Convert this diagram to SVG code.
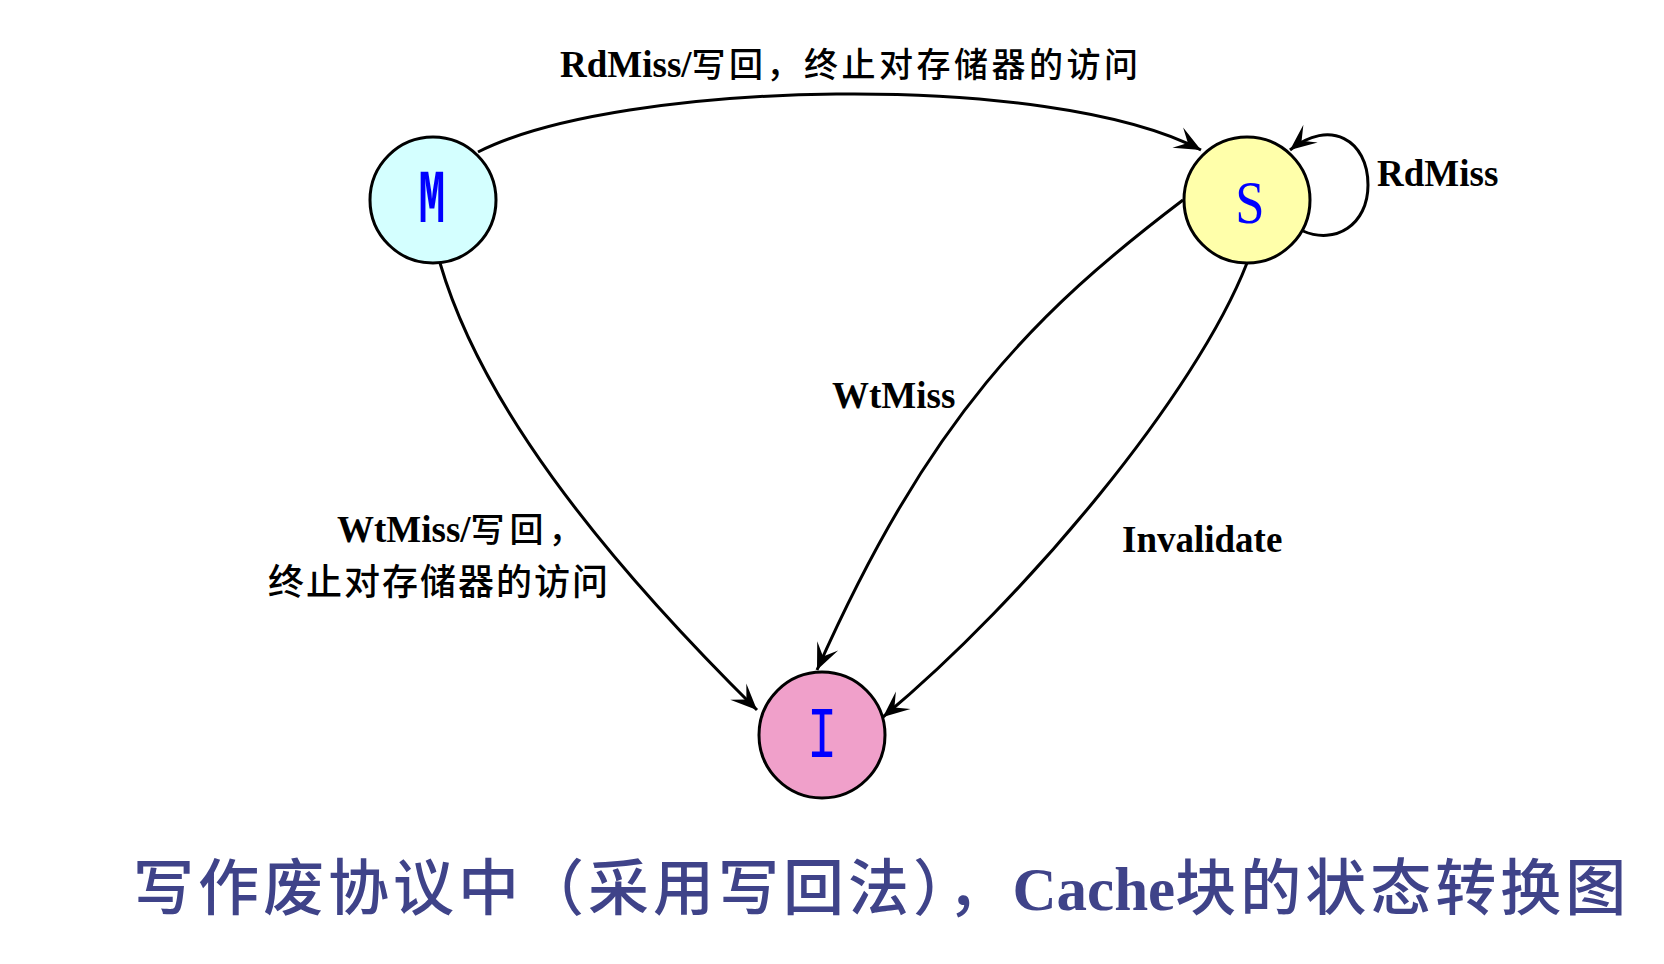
<svg xmlns="http://www.w3.org/2000/svg" width="1664" height="964" viewBox="0 0 1664 964">
<style>
.node{stroke:#000;stroke-width:3}
.edge{fill:none;stroke:#000;stroke-width:3}
.lbl{font-family:"Liberation Serif","Noto Sans CJK SC",serif;font-weight:bold;font-size:37px;fill:#000}
.cjk{font-family:"Noto Sans CJK SC","Noto Sans CJK TC",sans-serif;font-weight:500}
.st{fill:#0000ff}
.title{font-family:"Noto Sans CJK SC","Noto Sans CJK TC",sans-serif;font-weight:500;font-size:61px;fill:#3f4389;letter-spacing:4px}
</style>
<defs>
<marker id="arr" markerUnits="userSpaceOnUse" markerWidth="32" markerHeight="32" viewBox="-26 -13 28 26" refX="0" refY="0" orient="auto">
<path d="M0,0 L-23,-10 L-13,0 L-23,10 Z" fill="#000"/>
</marker>
</defs>
<rect width="1664" height="964" fill="#fff"/>
<g id="connectors">
<path class="edge" d="M478,152 C620,80 1050,70 1201,150" marker-end="url(#arr)"/>
<path class="edge" d="M1303,231 C1335,245 1368,225 1368,185 C1368,140 1330,118 1290,150" marker-end="url(#arr)"/>
<path class="edge" d="M440,263 C480,400 595,550 757,710" marker-end="url(#arr)"/>
<path class="edge" d="M1183,200 C1034,313 929,418 817,670" marker-end="url(#arr)"/>
<path class="edge" d="M1247,263 C1196,394 1026,598 883,717" marker-end="url(#arr)"/>
</g>
<g id="node-M">
<circle class="node" cx="433" cy="200" r="63" fill="#d4ffff"/>
<text class="st" transform="translate(432,222) scale(0.62,1.05)" text-anchor="middle" font-family="Liberation Mono, monospace" font-weight="bold" font-size="72">M</text>
</g>
<g id="node-S">
<circle class="node" cx="1247" cy="200" r="63" fill="#ffffaa"/>
<text class="st" transform="translate(1250,223) scale(0.85,1)" text-anchor="middle" font-family="Liberation Serif, serif" font-size="62">S</text>
</g>
<g id="node-I">
<circle class="node" cx="822" cy="735" r="63" fill="#f0a0ca"/>
<text class="st" transform="translate(822,757) scale(0.7,1)" text-anchor="middle" font-family="Liberation Mono, monospace" font-size="72">I</text>
</g>
<g id="labels">
<text class="lbl" x="560" y="77">RdMiss/<tspan class="cjk" font-size="34" letter-spacing="3.5">写回，终止对存储器的访问</tspan></text>
<text class="lbl" x="1377" y="186">RdMiss</text>
<text class="lbl" x="832" y="408">WtMiss</text>
<text class="lbl" x="1122" y="552">Invalidate</text>
<text class="lbl" x="337" y="542">WtMiss/<tspan class="cjk" font-size="34" letter-spacing="5">写回，</tspan></text>
<text class="lbl" x="268" y="595"><tspan class="cjk" font-size="36" letter-spacing="2">终止对存储器的访问</tspan></text>
</g>
<g id="title">
<text class="title" x="133" y="910">写作废协议中（采用写回法），<tspan font-family="Liberation Serif, serif" font-weight="bold" letter-spacing="0">Cache</tspan>块的状态转换图</text>
</g>
</svg>
